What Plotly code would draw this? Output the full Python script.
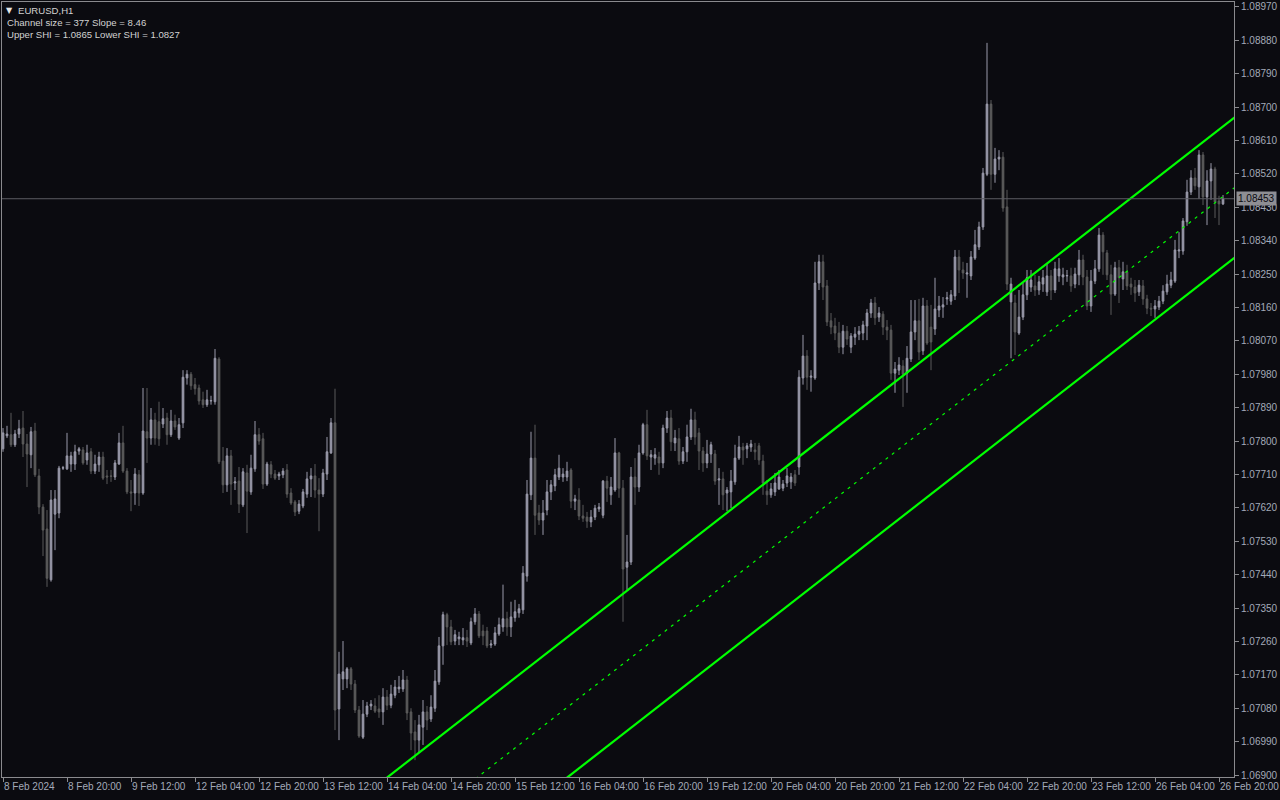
import plotly.graph_objects as go

# ---------------- data (EURUSD H1, bar index 0 = 8 Feb 2024 04:00) ----------------
opens = [
1.07779,1.07814,1.07817,1.07790,1.07819,1.07835,1.07792,1.07763,1.07827,1.07706,
1.07622,1.07563,1.07426,1.07603,1.07606,1.07727,1.07725,1.07738,1.07738,1.07773,
1.07776,1.07749,1.07771,1.07719,1.07736,1.07757,1.07706,1.07706,1.07703,1.07738,
1.07795,1.07719,1.07663,1.07660,1.07709,1.07660,1.07825,1.07808,1.07857,1.07852,
1.07846,1.07862,1.07817,1.07854,1.07808,1.07849,1.07970,1.07980,1.07952,1.07943,
1.07911,1.07898,1.07908,1.07906,1.08021,1.07746,1.07682,1.07760,1.07687,1.07692,
1.07628,1.07714,1.07663,1.07725,1.07817,1.07806,1.07684,1.07736,1.07711,1.07706,
1.07709,1.07722,1.07660,1.07636,1.07611,1.07625,1.07657,1.07698,1.07706,1.07668,
1.07657,1.07711,1.07768,1.07849,1.07078,1.07159,1.07159,1.07186,1.07145,1.07075,
1.07002,1.07064,1.07086,1.07086,1.07078,1.07070,1.07110,1.07088,1.07115,1.07132,
1.07132,1.07156,1.07070,1.07016,1.06994,1.07029,1.07070,1.07051,1.07080,1.07151,
1.07248,1.07332,1.07299,1.07261,1.07267,1.07264,1.07270,1.07256,1.07313,1.07334,
1.07288,1.07288,1.07250,1.07253,1.07280,1.07299,1.07321,1.07299,1.07324,1.07337,
1.07345,1.07436,1.07655,1.07754,1.07606,1.07587,1.07614,1.07663,1.07679,1.07703,
1.07703,1.07703,1.07722,1.07638,1.07641,1.07598,1.07595,1.07582,1.07595,1.07617,
1.07600,1.07692,1.07655,1.07668,1.07768,1.07673,1.07460,1.07474,1.07703,1.07676,
1.07768,1.07844,1.07757,1.07754,1.07757,1.07741,1.07835,1.07862,1.07795,1.07806,
1.07746,1.07771,1.07811,1.07857,1.07822,1.07773,1.07741,1.07765,1.07765,1.07695,
1.07698,1.07660,1.07663,1.07690,1.07754,1.07784,1.07779,1.07784,1.07776,1.07787,
1.07746,1.07665,1.07655,1.07663,1.07671,1.07673,1.07687,1.07690,1.07709,1.07730,
1.07970,1.08029,1.07972,1.07970,1.08226,1.08283,1.08218,1.08124,1.08110,1.08091,
1.08053,1.08096,1.08053,1.08080,1.08088,1.08091,1.08110,1.08145,1.08172,1.08134,
1.08142,1.08107,1.08099,1.07983,1.07991,1.08002,1.07983,1.08021,1.08094,1.08124,
1.08043,1.08164,1.08107,1.08102,1.08153,1.08161,1.08183,1.08177,1.08191,1.08296,
1.08261,1.08250,1.08245,1.08293,1.08323,1.08377,1.08519,1.08708,1.08519,1.08560,
1.08565,1.08431,1.08175,1.08172,1.08091,1.08134,1.08194,1.08215,1.08218,1.08207,
1.08223,1.08202,1.08245,1.08207,1.08245,1.08242,1.08245,1.08245,1.08223,1.08248,
1.08288,1.08242,1.08164,1.08231,1.08264,1.08355,1.08307,1.08248,1.08196,1.08267,
1.08237,1.08256,1.08223,1.08215,1.08202,1.08218,1.08183,1.08158,1.08156,1.08161,
1.08177,1.08202,1.08220,1.08231,1.08312,1.08312,1.08391,1.08471,1.08509,1.08485,
1.08571,1.08458,1.08501,1.08533,1.08447,1.08439]

highs = [
1.07835,1.07841,1.07876,1.07830,1.07857,1.07881,1.07819,1.07838,1.07849,1.07725,
1.07630,1.07614,1.07668,1.07668,1.07733,1.07733,1.07822,1.07771,1.07790,1.07784,
1.07784,1.07790,1.07781,1.07763,1.07771,1.07771,1.07722,1.07722,1.07749,1.07822,
1.07841,1.07727,1.07695,1.07727,1.07722,1.07943,1.07943,1.07889,1.07876,1.07906,
1.07889,1.07876,1.07884,1.07871,1.07862,1.07991,1.07991,1.07986,1.07970,1.07952,
1.07933,1.07938,1.07922,1.08048,1.08026,1.07784,1.07781,1.07776,1.07703,1.07730,
1.07727,1.07736,1.07763,1.07854,1.07835,1.07822,1.07744,1.07746,1.07722,1.07717,
1.07727,1.07738,1.07673,1.07641,1.07641,1.07671,1.07717,1.07727,1.07738,1.07700,
1.07725,1.07811,1.07862,1.07941,1.07232,1.07261,1.07191,1.07191,1.07156,1.07086,
1.07102,1.07097,1.07102,1.07107,1.07115,1.07134,1.07129,1.07143,1.07156,1.07167,
1.07183,1.07167,1.07080,1.07048,1.07062,1.07102,1.07086,1.07115,1.07183,1.07272,
1.07340,1.07337,1.07318,1.07291,1.07286,1.07296,1.07291,1.07324,1.07350,1.07342,
1.07305,1.07299,1.07264,1.07299,1.07324,1.07413,1.07340,1.07367,1.07372,1.07361,
1.07463,1.07695,1.07825,1.07844,1.07628,1.07641,1.07695,1.07695,1.07725,1.07763,
1.07727,1.07744,1.07727,1.07655,1.07673,1.07628,1.07609,1.07614,1.07628,1.07633,
1.07695,1.07706,1.07703,1.07808,1.07771,1.07695,1.07547,1.07730,1.07754,1.07790,
1.07849,1.07884,1.07776,1.07781,1.07771,1.07844,1.07881,1.07884,1.07830,1.07835,
1.07784,1.07844,1.07887,1.07879,1.07835,1.07784,1.07803,1.07798,1.07776,1.07727,
1.07717,1.07676,1.07722,1.07790,1.07814,1.07795,1.07795,1.07803,1.07795,1.07795,
1.07763,1.07695,1.07687,1.07714,1.07722,1.07695,1.07727,1.07714,1.07722,1.07991,
1.08086,1.08045,1.07991,1.08283,1.08302,1.08302,1.08234,1.08145,1.08132,1.08121,
1.08113,1.08110,1.08091,1.08107,1.08110,1.08124,1.08156,1.08183,1.08188,1.08161,
1.08150,1.08126,1.08113,1.08013,1.08026,1.08018,1.08056,1.08180,1.08180,1.08183,
1.08186,1.08180,1.08167,1.08240,1.08191,1.08188,1.08202,1.08207,1.08315,1.08315,
1.08283,1.08280,1.08312,1.08369,1.08391,1.08536,1.08873,1.08719,1.08590,1.08584,
1.08579,1.08477,1.08240,1.08194,1.08207,1.08226,1.08261,1.08261,1.08248,1.08245,
1.08261,1.08280,1.08261,1.08283,1.08293,1.08267,1.08261,1.08267,1.08267,1.08315,
1.08302,1.08261,1.08261,1.08288,1.08374,1.08363,1.08315,1.08275,1.08283,1.08288,
1.08283,1.08275,1.08240,1.08234,1.08234,1.08234,1.08194,1.08172,1.08180,1.08191,
1.08220,1.08248,1.08256,1.08342,1.08363,1.08401,1.08504,1.08530,1.08536,1.08584,
1.08579,1.08530,1.08549,1.08539,1.08461,1.08463]

lows = [
1.07771,1.07808,1.07784,1.07784,1.07808,1.07757,1.07676,1.07727,1.07703,1.07603,
1.07490,1.07407,1.07421,1.07506,1.07592,1.07722,1.07722,1.07717,1.07722,1.07763,
1.07736,1.07736,1.07711,1.07711,1.07717,1.07695,1.07684,1.07690,1.07695,1.07736,
1.07714,1.07657,1.07611,1.07628,1.07625,1.07655,1.07741,1.07790,1.07790,1.07787,
1.07835,1.07790,1.07811,1.07830,1.07803,1.07835,1.07952,1.07938,1.07925,1.07898,
1.07889,1.07892,1.07898,1.07898,1.07738,1.07660,1.07663,1.07628,1.07668,1.07606,
1.07622,1.07552,1.07655,1.07717,1.07790,1.07671,1.07679,1.07700,1.07695,1.07695,
1.07700,1.07647,1.07628,1.07598,1.07603,1.07619,1.07647,1.07649,1.07647,1.07557,
1.07649,1.07695,1.07765,1.07021,1.06994,1.07129,1.07134,1.07129,1.07067,1.07000,
1.06997,1.07056,1.07075,1.07067,1.07054,1.07035,1.07075,1.07080,1.07107,1.07121,
1.07124,1.07048,1.06967,1.06940,1.06962,1.06981,1.07021,1.07043,1.07070,1.07143,
1.07197,1.07250,1.07250,1.07250,1.07250,1.07250,1.07245,1.07250,1.07305,1.07269,
1.07250,1.07242,1.07242,1.07248,1.07275,1.07286,1.07275,1.07272,1.07313,1.07324,
1.07334,1.07421,1.07641,1.07547,1.07574,1.07547,1.07600,1.07641,1.07665,1.07695,
1.07690,1.07692,1.07619,1.07614,1.07587,1.07582,1.07566,1.07568,1.07587,1.07609,
1.07592,1.07636,1.07628,1.07663,1.07647,1.07313,1.07399,1.07466,1.07628,1.07663,
1.07763,1.07749,1.07722,1.07736,1.07709,1.07727,1.07822,1.07773,1.07773,1.07736,
1.07738,1.07744,1.07803,1.07790,1.07722,1.07717,1.07727,1.07741,1.07682,1.07628,
1.07614,1.07611,1.07619,1.07682,1.07749,1.07736,1.07754,1.07771,1.07749,1.07736,
1.07655,1.07628,1.07647,1.07652,1.07668,1.07665,1.07676,1.07671,1.07679,1.07709,
1.07952,1.07938,1.07933,1.07965,1.08207,1.08180,1.08110,1.08088,1.08072,1.08037,
1.08034,1.08059,1.08037,1.08059,1.08072,1.08072,1.08072,1.08132,1.08113,1.08121,
1.08086,1.08072,1.07965,1.07930,1.07978,1.07892,1.07930,1.08013,1.08072,1.08018,
1.08032,1.08059,1.07991,1.08086,1.08134,1.08132,1.08167,1.08167,1.08180,1.08199,
1.08237,1.08186,1.08234,1.08288,1.08315,1.08369,1.08514,1.08477,1.08496,1.08530,
1.08418,1.08207,1.08023,1.08032,1.08086,1.08126,1.08180,1.08202,1.08191,1.08194,
1.08202,1.08191,1.08180,1.08199,1.08229,1.08220,1.08229,1.08202,1.08212,1.08220,
1.08220,1.08153,1.08148,1.08223,1.08256,1.08248,1.08234,1.08140,1.08191,1.08172,
1.08207,1.08207,1.08194,1.08175,1.08191,1.08167,1.08142,1.08137,1.08132,1.08153,
1.08169,1.08194,1.08212,1.08226,1.08293,1.08302,1.08380,1.08463,1.08477,1.08453,
1.08436,1.08382,1.08450,1.08401,1.08382,1.08436]

closes = [
1.07822,1.07819,1.07790,1.07819,1.07833,1.07792,1.07765,1.07825,1.07709,1.07622,
1.07560,1.07430,1.07641,1.07644,1.07727,1.07728,1.07760,1.07760,1.07771,1.07779,
1.07741,1.07768,1.07719,1.07738,1.07757,1.07700,1.07703,1.07705,1.07741,1.07795,
1.07719,1.07663,1.07660,1.07711,1.07660,1.07827,1.07808,1.07857,1.07808,1.07806,
1.07860,1.07817,1.07854,1.07838,1.07844,1.07972,1.07980,1.07949,1.07941,1.07908,
1.07898,1.07911,1.07909,1.08023,1.07744,1.07682,1.07760,1.07684,1.07690,1.07630,
1.07717,1.07665,1.07727,1.07817,1.07800,1.07684,1.07738,1.07711,1.07700,1.07711,
1.07719,1.07657,1.07633,1.07609,1.07630,1.07663,1.07698,1.07706,1.07668,1.07657,
1.07714,1.07771,1.07849,1.07075,1.07172,1.07178,1.07186,1.07145,1.07075,1.07005,
1.07064,1.07086,1.07091,1.07072,1.07070,1.07110,1.07088,1.07118,1.07137,1.07137,
1.07156,1.07067,1.07013,1.06994,1.07035,1.07070,1.07048,1.07083,1.07153,1.07248,
1.07332,1.07299,1.07259,1.07278,1.07272,1.07270,1.07261,1.07313,1.07334,1.07275,
1.07275,1.07248,1.07253,1.07283,1.07305,1.07321,1.07299,1.07326,1.07340,1.07348,
1.07444,1.07657,1.07754,1.07600,1.07587,1.07606,1.07663,1.07682,1.07709,1.07727,
1.07711,1.07719,1.07638,1.07644,1.07598,1.07592,1.07584,1.07595,1.07619,1.07622,
1.07692,1.07673,1.07676,1.07768,1.07673,1.07455,1.07474,1.07703,1.07676,1.07768,
1.07844,1.07760,1.07763,1.07763,1.07741,1.07835,1.07862,1.07798,1.07808,1.07746,
1.07771,1.07811,1.07857,1.07811,1.07773,1.07741,1.07765,1.07790,1.07692,1.07698,
1.07655,1.07668,1.07692,1.07754,1.07784,1.07776,1.07787,1.07792,1.07771,1.07749,
1.07687,1.07655,1.07671,1.07687,1.07703,1.07684,1.07706,1.07703,1.07687,1.07972,
1.08029,1.07972,1.07975,1.08226,1.08283,1.08215,1.08121,1.08107,1.08091,1.08053,
1.08096,1.08075,1.08083,1.08088,1.08096,1.08113,1.08145,1.08172,1.08132,1.08145,
1.08107,1.08099,1.07983,1.07994,1.08005,1.07980,1.08023,1.08094,1.08124,1.08040,
1.08164,1.08064,1.08067,1.08156,1.08164,1.08167,1.08186,1.08194,1.08296,1.08261,
1.08253,1.08253,1.08296,1.08329,1.08377,1.08522,1.08708,1.08519,1.08560,1.08565,
1.08428,1.08223,1.08223,1.08094,1.08134,1.08194,1.08240,1.08234,1.08207,1.08229,
1.08240,1.08245,1.08207,1.08264,1.08264,1.08248,1.08246,1.08218,1.08250,1.08288,
1.08242,1.08164,1.08231,1.08264,1.08355,1.08310,1.08248,1.08196,1.08267,1.08240,
1.08256,1.08218,1.08215,1.08199,1.08220,1.08183,1.08158,1.08156,1.08164,1.08177,
1.08204,1.08223,1.08234,1.08315,1.08315,1.08393,1.08471,1.08509,1.08488,1.08571,
1.08458,1.08501,1.08533,1.08444,1.08439,1.08453]

time_labels = ["8 Feb 2024", "8 Feb 20:00", "9 Feb 12:00", "12 Feb 04:00", "12 Feb 20:00",
               "13 Feb 12:00", "14 Feb 04:00", "14 Feb 20:00", "15 Feb 12:00", "16 Feb 04:00",
               "16 Feb 20:00", "19 Feb 12:00", "20 Feb 04:00", "20 Feb 20:00", "21 Feb 12:00",
               "22 Feb 04:00", "22 Feb 20:00", "23 Feb 12:00", "26 Feb 04:00", "26 Feb 20:00"]
label_every = 16  # bars between time labels

# SHI channel (bar index, price)
channel_bars = [96, 308]
upper_line = [1.06893, 1.08673]
middle_line = [1.06704, 1.08484]
lower_line = [1.06515, 1.08295]
channel_size = 377
channel_slope = 8.46
upper_shi = 1.0865
lower_shi = 1.0827
bid_price = 1.08453
symbol = "EURUSD,H1"

# ---------------- figure ----------------
bars = list(range(len(closes)))
BG = "#0b0b10"
AX = "#8a8a8e"
TXT = "#a3aab9"
BULL = "#9a9aaa"
BEAR = "#5b5b5b"
GREEN = "#00ff00"

fig = go.Figure()
fig.add_trace(go.Candlestick(
    x=bars, open=opens, high=highs, low=lows, close=closes,
    increasing=dict(line=dict(color=BULL, width=1), fillcolor=BULL),
    decreasing=dict(line=dict(color=BEAR, width=1), fillcolor=BEAR),
    whiskerwidth=0, showlegend=False, hoverinfo="skip"))

for line, dash, w in [(upper_line, "solid", 2.2), (lower_line, "solid", 2.2), (middle_line, "3px,5px", 1.2)]:
    fig.add_trace(go.Scatter(x=channel_bars, y=line, mode="lines",
                             line=dict(color=GREEN, width=w, dash=dash),
                             showlegend=False, hoverinfo="skip"))

fig.add_hline(y=bid_price, line=dict(color="#5c5c62", width=1))

tickvals = [i * label_every for i in range(len(time_labels))]

fig.update_layout(
    width=1280, height=800,
    paper_bgcolor=BG, plot_bgcolor=BG,
    margin=dict(l=2, r=46, t=2, b=23, autoexpand=False),
    boxgap=0.4,
    font=dict(family="Liberation Sans, Arial, sans-serif", size=10, color=TXT),
    xaxis=dict(range=[-0.25, 307.75], rangeslider=dict(visible=False),
               tickmode="array", tickvals=tickvals, ticktext=time_labels,
               ticks="outside", ticklen=4, tickcolor=AX, tickwidth=1,
               ticklabelposition="outside right", tickangle=0,
               showgrid=False, zeroline=False, showline=True, linecolor=AX,
               linewidth=1, mirror=True, tickfont=dict(size=10, color=TXT)),
    yaxis=dict(range=[1.068946, 1.089832], side="right",
               tick0=1.069, dtick=0.0009, tickformat=".5f",
               ticks="outside", ticklen=4, tickcolor=AX, tickwidth=1,
               showgrid=False, zeroline=False, showline=True, linecolor=AX,
               linewidth=1, mirror=True, tickfont=dict(size=10, color=TXT)),
)

# current price tag on the price scale
fig.add_annotation(x=1, xref="paper", y=bid_price, yref="y", xanchor="left",
                   xshift=2, text=f"{bid_price:.5f}", showarrow=False,
                   bgcolor="#8e8e93", font=dict(size=10, color="#0b0b10"), borderpad=1)

# info block top-left
fig.add_annotation(x=0, xref="paper", y=1, yref="paper", xanchor="left", yanchor="top",
                   xshift=2, yshift=-2, showarrow=False, align="left",
                   text="▼", font=dict(size=8, color="#e6e6e6", family="DejaVu Sans"))
fig.add_annotation(x=0, xref="paper", y=1, yref="paper", xanchor="left", yanchor="top",
                   xshift=14, yshift=-1, showarrow=False, align="left",
                   text=symbol, font=dict(size=9.6, color="#d2d2d2"))
fig.add_annotation(x=0, xref="paper", y=1, yref="paper", xanchor="left", yanchor="top",
                   xshift=3, yshift=-13, showarrow=False, align="left",
                   text=(f"Channel size = {channel_size} Slope = {channel_slope:.2f}<br>"
                         f"Upper SHI = {upper_shi:.4f} Lower SHI = {lower_shi:.4f}"),
                   font=dict(size=9.6, color="#d2d2d2"))

fig.write_html("out.html", config={"displayModeBar": False},
               post_script="document.body.style.margin='0';document.body.style.overflow='hidden';")
